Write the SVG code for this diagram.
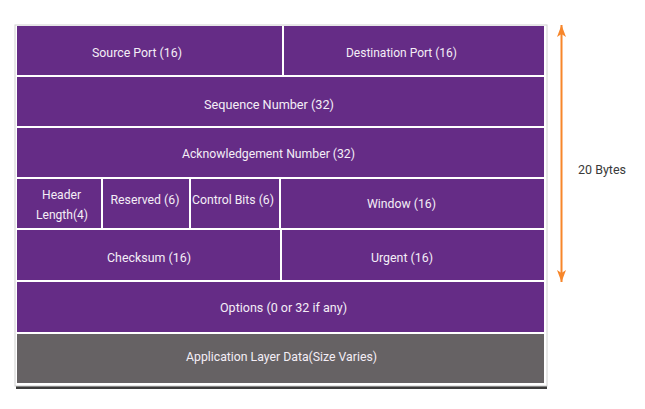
<svg xmlns="http://www.w3.org/2000/svg" width="645" height="409" viewBox="0 0 645 409">
<defs>
<marker id="ah" viewBox="0 0 12 9" refX="12" refY="4.5" markerWidth="12" markerHeight="9" markerUnits="userSpaceOnUse" orient="auto-start-reverse">
<path d="M0,0 L12,4.5 L0,9 L3,4.5 Z" fill="#F7862A"/>
</marker>
</defs>
<style>
.cell{fill:#652C86}
.data{fill:#666264}
.t{font-family:Roboto,"Liberation Sans",sans-serif;font-size:13px;fill:#F4EEF6;text-anchor:middle}
.lbl{font-family:Roboto,"Liberation Sans",sans-serif;font-size:13px;fill:#3a3a3a}
</style>
<rect width="645" height="409" fill="#ffffff"/>
<g id="frame">
<rect x="16" y="386" width="531" height="3" fill="#3c3c3c"/>
<rect x="15" y="25" width="532" height="361" fill="#ffffff" stroke="#d0d0d0" stroke-width="1"/>
</g>
<g id="source-port"><rect class="cell" x="17" y="26" width="265" height="49"/><text class="t" x="137" y="57" textLength="90" lengthAdjust="spacingAndGlyphs">Source Port (16)</text></g>
<g id="destination-port"><rect class="cell" x="284" y="26" width="260" height="49"/><text class="t" x="401.5" y="57" textLength="111" lengthAdjust="spacingAndGlyphs">Destination Port (16)</text></g>
<g id="sequence-number"><rect class="cell" x="17" y="77" width="527" height="49"/><text class="t" x="269" y="109" textLength="130" lengthAdjust="spacingAndGlyphs">Sequence Number (32)</text></g>
<g id="ack-number"><rect class="cell" x="17" y="128" width="527" height="49"/><text class="t" x="268.5" y="158" textLength="173" lengthAdjust="spacingAndGlyphs">Acknowledgement Number (32)</text></g>
<g id="header-length"><rect class="cell" x="17" y="179" width="84" height="49"/><text class="t" x="61.5" y="199" textLength="39" lengthAdjust="spacingAndGlyphs">Header</text><text class="t" x="62" y="219" textLength="52" lengthAdjust="spacingAndGlyphs">Length(4)</text></g>
<g id="reserved"><rect class="cell" x="103" y="179" width="86" height="49"/><text class="t" x="145" y="204" textLength="69" lengthAdjust="spacingAndGlyphs">Reserved (6)</text></g>
<g id="control-bits"><rect class="cell" x="191" y="179" width="88" height="49"/><text class="t" x="233" y="204" textLength="82" lengthAdjust="spacingAndGlyphs">Control Bits (6)</text></g>
<g id="window"><rect class="cell" x="281" y="179" width="263" height="49"/><text class="t" x="401.5" y="208" textLength="69" lengthAdjust="spacingAndGlyphs">Window (16)</text></g>
<g id="checksum"><rect class="cell" x="17" y="230" width="263" height="50"/><text class="t" x="149" y="262" textLength="84" lengthAdjust="spacingAndGlyphs">Checksum (16)</text></g>
<g id="urgent"><rect class="cell" x="282" y="230" width="262" height="50"/><text class="t" x="402" y="262" textLength="62" lengthAdjust="spacingAndGlyphs">Urgent (16)</text></g>
<g id="options"><rect class="cell" x="17" y="282" width="527" height="50"/><text class="t" x="283.5" y="312" textLength="127" lengthAdjust="spacingAndGlyphs">Options (0 or 32 if any)</text></g>
<g id="app-data"><rect class="data" x="17" y="334" width="527" height="49"/><text class="t" x="281.5" y="361" textLength="191" lengthAdjust="spacingAndGlyphs">Application Layer Data(Size Varies)</text></g>
<g id="connectors">
<line x1="561.5" y1="25" x2="561.5" y2="282" stroke="#F7862A" stroke-width="2" marker-start="url(#ah)" marker-end="url(#ah)"/>
</g>
<g id="size-label"><text class="lbl" x="578" y="174" textLength="48" lengthAdjust="spacingAndGlyphs">20 Bytes</text></g>
</svg>
